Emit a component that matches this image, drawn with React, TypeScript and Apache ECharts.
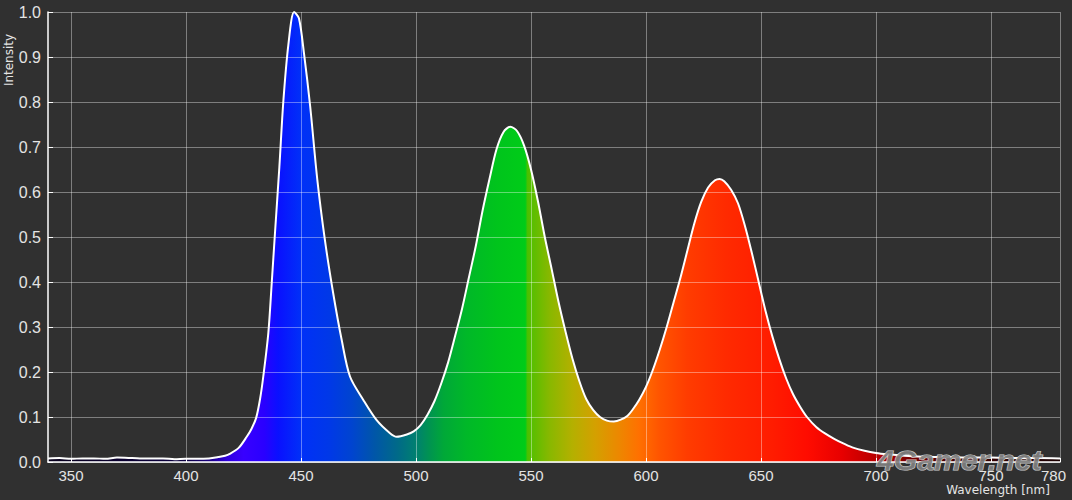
import React, { useEffect, useRef } from "react";
import * as echarts from "echarts";

// Wavelength (nm) and relative intensity
const wavelengths = [
  340, 345, 350, 355, 360, 365, 370, 375, 380, 385, 390, 395, 400, 405, 410, 414, 417, 419,
  423, 426.4, 428.5, 430.5, 432.2, 433.6, 435.8, 437.3, 438.7, 440.6, 442.3, 444.5, 447, 449.1, 451.3, 454,
  457.1, 460.4, 464, 467.7, 471.3, 477.1, 482.9, 488.7, 491.6,
  496, 499, 502, 505, 508, 511, 514, 517, 520, 523, 526, 529, 532, 535, 538, 541, 544, 547,
  550, 553, 556, 559, 562, 565, 568, 571, 574, 577, 580, 583, 586, 589, 592,
  594, 597, 600, 603, 606, 609, 612, 615, 618, 621, 624, 627, 630, 632, 634, 637, 640, 643,
  646, 649, 652, 655, 658, 661, 664, 667, 670, 674, 678, 682, 686, 690, 695, 700,
  705, 710, 718, 730, 740, 750, 760, 770, 780,
];
const intensities = [
  0.008, 0.009, 0.007, 0.008, 0.008, 0.007, 0.01, 0.009, 0.008, 0.008, 0.008, 0.006, 0.007, 0.007, 0.008, 0.011, 0.014, 0.018,
  0.032, 0.056, 0.074, 0.098, 0.14, 0.19, 0.287, 0.4, 0.51, 0.656, 0.8, 0.927, 1.0, 0.986, 0.908, 0.79,
  0.627, 0.493, 0.375, 0.271, 0.19, 0.138, 0.093, 0.064, 0.056,
  0.061, 0.068, 0.082, 0.105, 0.135, 0.175, 0.222, 0.28, 0.34, 0.41, 0.48, 0.56, 0.63, 0.695, 0.733, 0.745, 0.735, 0.703,
  0.65, 0.58, 0.5, 0.428, 0.355, 0.29, 0.23, 0.18, 0.14, 0.116, 0.1, 0.092, 0.09, 0.094, 0.103,
  0.115, 0.138, 0.167, 0.205, 0.25, 0.3, 0.355, 0.41, 0.47, 0.53, 0.578, 0.61, 0.626, 0.629, 0.624, 0.605, 0.575, 0.525,
  0.465, 0.4, 0.335, 0.278, 0.228, 0.185, 0.15, 0.123, 0.1, 0.078, 0.063, 0.051, 0.041, 0.032, 0.025, 0.02,
  0.017, 0.015, 0.012, 0.011, 0.01, 0.01, 0.009, 0.009, 0.008,
];

const xTickValues = [350, 400, 450, 500, 550, 600, 650, 700, 750, 780];
const xMin = 340;
const xMax = 780;
const yMin = 0;
const yMax = 1;
const yStep = 0.1;
const xAxisName = "Wavelength [nm]";
const yAxisName = "Intensity";
const watermark = "4Gamer.net";

// Spectrum colour stops (wavelength, colour) for the fill
const spectrumWl = [340, 400, 410, 418, 425, 434, 440, 450, 462, 472, 482, 492, 500, 506, 512, 522, 535, 547.5, 548.5, 558, 568, 578, 588, 597, 606, 618, 635, 655, 670, 685, 700, 715, 735, 780];
const spectrumColors = [
  "#08001c", "#0c0040", "#1a0080", "#3000e0", "#3800ff", "#2a00ff", "#0a10ff", "#0030f8", "#0038e8", "#0044d0",
  "#0056a8", "#006a88", "#008070", "#009450", "#00a838", "#00b828", "#00c41c", "#00cc18", "#4cc000", "#88b800",
  "#b4b000", "#d4a000", "#ec8800", "#ff7000", "#ff5400", "#ff3c00", "#ff2a00", "#ff1c00", "#ff0c00", "#e80000",
  "#b80000", "#780000", "#400000", "#1a0000",
];

const labelFont = "'Liberation Sans', Arial, sans-serif";

export default function App() {
  const ref = useRef<HTMLDivElement>(null);
  useEffect(() => {
    document.body.style.margin = "0";
    document.body.style.background = "#303030";
    const chart = echarts.init(ref.current!, null, { renderer: "svg" });
    const data = wavelengths.map((w, i) => [w, intensities[i]]);
    const span = xMax - xMin;
    const gradient = new echarts.graphic.LinearGradient(
      0, 0, 1, 0,
      spectrumWl.map((w, i) => ({ offset: (w - xMin) / span, color: spectrumColors[i] }))
    );
    chart.setOption({
      animation: false,
      backgroundColor: "#303030",
      grid: { left: 48, right: 12, top: 12, bottom: 38, containLabel: false },
      xAxis: {
        type: "value",
        min: xMin,
        max: xMax,
        z: 3,
        axisLine: { show: true, onZero: false, lineStyle: { color: "#ffffff", width: 1.5 } },
        axisTick: { show: true, inside: true, length: 4, customValues: xTickValues, lineStyle: { color: "#ffffff" } },
        axisLabel: {
          customValues: xTickValues,
          color: "#e4e4e4",
          fontSize: 15,
          fontFamily: labelFont,
          margin: 6,
          formatter: (v: number) => (v === xMax ? "{r|" + v + "}" : String(v)),
          rich: { r: { padding: [0, 13, 0, 0], fontSize: 15, color: "#e4e4e4", fontFamily: labelFont } },
        },
        splitLine: { show: true, lineStyle: { color: "rgba(255,255,255,0.38)", width: 1 } },
      },
      yAxis: {
        type: "value",
        min: yMin,
        max: yMax,
        interval: yStep,
        z: 3,
        axisLine: { show: true, lineStyle: { color: "#ffffff", width: 1.5 } },
        axisTick: { show: true, inside: true, length: 5, lineStyle: { color: "#ffffff" } },
        axisLabel: {
          color: "#e4e4e4",
          fontSize: 16,
          fontFamily: labelFont,
          margin: 7,
          formatter: (v: number) => v.toFixed(1),
        },
        splitLine: { show: true, lineStyle: { color: "rgba(255,255,255,0.38)", width: 1 } },
      },
      series: [
        {
          type: "line",
          data,
          z: 1,
          symbol: "none",
          smooth: 0.3,
          silent: true,
          lineStyle: { width: 0, opacity: 0 },
          areaStyle: { color: gradient, opacity: 1 },
        },
        {
          type: "line",
          data,
          z: 5,
          symbol: "none",
          smooth: 0.3,
          silent: true,
          lineStyle: { color: "#ffffff", width: 2 },
        },
      ],
      graphic: [
        {
          type: "text",
          x: 9,
          y: 60,
          rotation: Math.PI / 2,
          style: { text: yAxisName, fill: "#e4e4e4", fontSize: 12, fontFamily: "'DejaVu Sans'", align: "center", verticalAlign: "middle" },
        },
        {
          type: "text",
          x: 998,
          y: 490,
          style: { text: xAxisName, fill: "#e4e4e4", fontSize: 12, fontFamily: "'DejaVu Sans'", align: "center", verticalAlign: "middle" },
        },
        {
          type: "text",
          x: 877,
          y: 460,
          z: 100,
          scaleX: 1.08,
          style: {
            text: watermark,
            fill: "rgba(128,128,128,0.92)",
            stroke: "rgba(235,235,235,0.85)",
            lineWidth: 1.2,
            fontSize: 28,
            fontWeight: "bold",
            fontStyle: "italic",
            fontFamily: labelFont,
            align: "left",
            verticalAlign: "middle",
          },
        },
      ],
    });
    return () => chart.dispose();
  }, []);
  return <div ref={ref} style={{ position: "fixed", left: 0, top: 0, width: 1072, height: 500 }} />;
}
